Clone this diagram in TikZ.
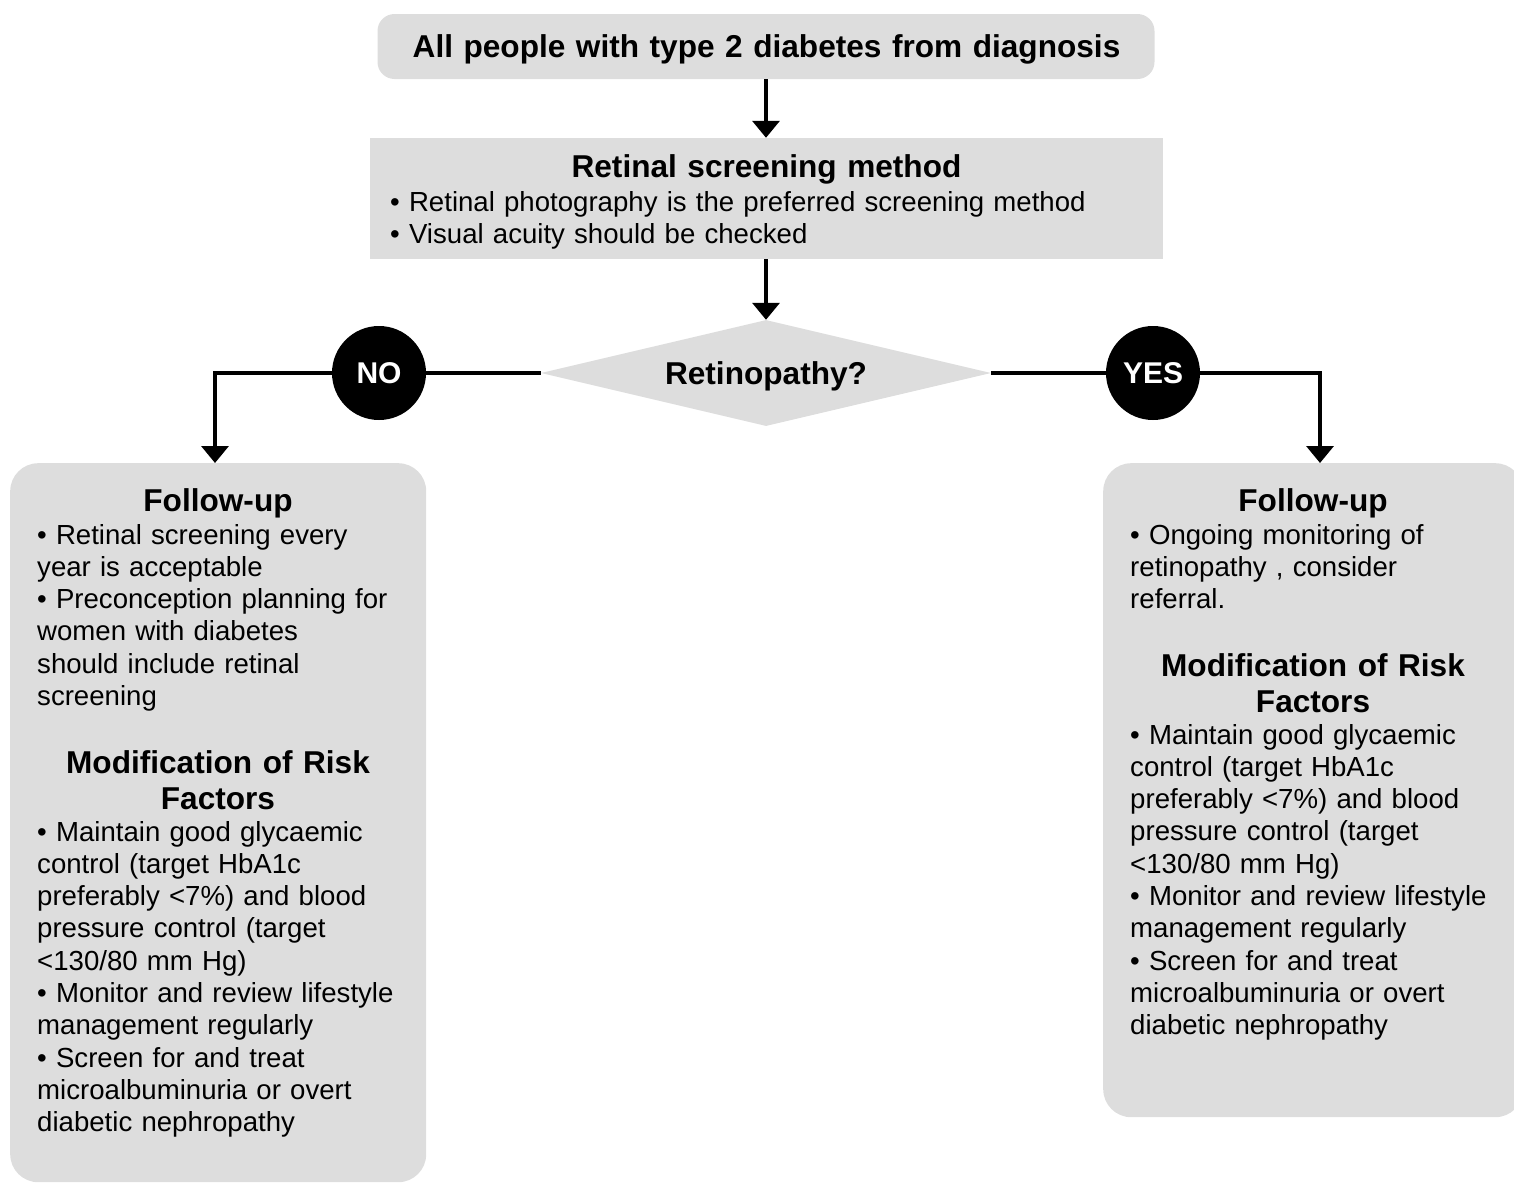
\documentclass[tikz,border=0pt]{standalone}
\usepackage{fontspec}
\setmainfont{Liberation Sans}
\usetikzlibrary{arrows.meta,shapes.geometric}
\definecolor{boxgray}{HTML}{DDDDDD}
\begin{document}
\begin{tikzpicture}[x=1pt,y=-1pt,
  box/.style={fill=boxgray, draw=none, inner sep=0},
  conn/.style={line width=3.5pt, draw=black},
  arr/.style={conn, -{Triangle[length=17pt,width=27pt]}},
  ttl/.style={font=\bfseries\fontsize{31.6}{36.5}\selectfont, inner sep=0, anchor=base, text width=#1, align=center},
  body/.style={font=\fontsize{27.6}{32.3}\selectfont, inner sep=0, anchor=base west, text width=#1, align=left},
  lbl/.style={circle, fill=black, text=white, minimum size=94pt, inner sep=0, font=\bfseries\fontsize{30}{32}\selectfont}
]
\useasboundingbox (0,0) rectangle (1514,1183);
\clip (0,0) rectangle (1514,1183);

% boxes
\node[box, rounded corners=17pt, minimum width=777pt, minimum height=65pt] (start) at (766,46.5) {};
\node[box, minimum width=793pt, minimum height=121pt] (method) at (766,198.5) {};
\node[diamond, fill=boxgray, minimum width=450pt, minimum height=106pt, inner sep=0, aspect=4.245] (dia) at (766,373) {};
\node[box, rounded corners=28pt, minimum width=416pt, minimum height=719pt, anchor=north west] (lbox) at (10,463) {};
\node[box, rounded corners=28pt, minimum width=420pt, minimum height=654pt, anchor=north west] (rbox) at (1103,463) {};

% texts
\node[ttl=760pt] (startT) at (766.5,57) {All people with type 2 diabetes from diagnosis};
\node[ttl=760pt] (methodT) at (766.5,177) {Retinal screening method};
\node[body=760pt] (methodB) at (390,211) {• Retinal photography is the preferred screening method\\• Visual acuity should be checked};
\node[ttl=300pt] (diaT) at (766,384) {Retinopathy?};

\node[ttl=400pt] (lf1) at (218,511) {Follow-up};
\node[body=385pt] (lf1b) at (37,544) {• Retinal screening every\\year is acceptable\\• Preconception planning for\\women with diabetes\\should include retinal\\screening};
\node[ttl=400pt] (lf2) at (218,773) {Modification of Risk\\Factors};
\node[body=385pt] (lf2b) at (37,841) {• Maintain good glycaemic\\control (target HbA1c\\preferably <7\%) and blood\\pressure control (target\\<130/80 mm Hg)\\• Monitor and review lifestyle\\management regularly\\• Screen for and treat\\microalbuminuria or overt\\diabetic nephropathy};

\node[ttl=400pt] (rf1) at (1313,511) {Follow-up};
\node[body=380pt] (rf1b) at (1130,544) {• Ongoing monitoring of\\retinopathy , consider\\referral.};
\node[ttl=400pt] (rf2) at (1313,676) {Modification of Risk\\Factors};
\node[body=380pt] (rf2b) at (1130,744) {• Maintain good glycaemic\\control (target HbA1c\\preferably <7\%) and blood\\pressure control (target\\<130/80 mm Hg)\\• Monitor and review lifestyle\\management regularly\\• Screen for and treat\\microalbuminuria or overt\\diabetic nephropathy};

% connectors
\coordinate (lc) at (215,373);
\coordinate (rc) at (1320,373);
\draw[arr] (start.south) -- (method.north);
\draw[arr] (method.south) -- (dia.north);
\draw[arr] (dia.west) -- (lc) -- (lc |- lbox.north);
\draw[arr] (dia.east) -- (rc) -- (rc |- rbox.north);

% labels
\node[lbl] (no) at (379,373) {NO};
\node[lbl] (yes) at (1153,373) {YES};
\end{tikzpicture}
\end{document}
